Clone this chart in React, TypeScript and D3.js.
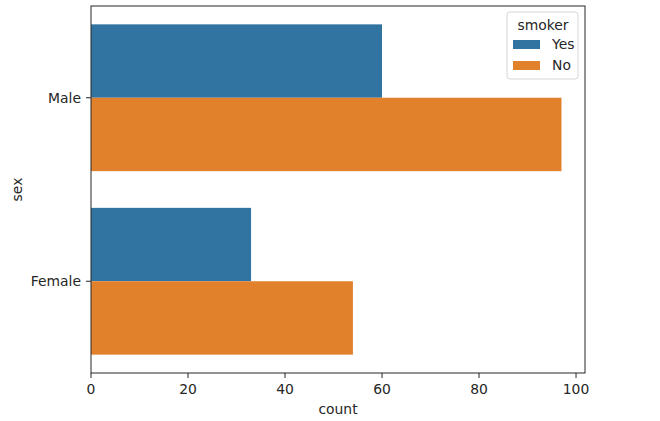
import React from "react";
import * as d3 from "d3";

const categories = ["Male", "Female"];
const hues = ["Yes", "No"];
const yesCounts = [60, 33];
const noCounts = [97, 54];
const xTicks = [0, 20, 40, 60, 80, 100];
const colors = ["#3274a1", "#e1812c"];

export default function App() {
  const W = 660, H = 421;
  const left = 91, right = 585, top = 6, bottom = 373;
  const maxV = d3.max([...yesCounts, ...noCounts]) as number;
  const x = d3.scaleLinear().domain([0, maxV * 1.05]).range([left, right]);
  const y = d3.scaleLinear().domain([-0.5, 1.5]).range([top, bottom]);
  const series = [yesCounts, noCounts];
  const font = "DejaVu Sans, sans-serif";
  const fs = 13.9;
  return (
    <svg width={W} height={H} style={{ position: "absolute", left: 0, top: 0, background: "#fff" }} fontFamily={font}>
      {categories.map((c, i) =>
        series.map((s, j) => {
          const y0 = y(i - 0.4 + j * 0.4);
          const y1 = y(i + j * 0.4);
          return (
            <rect key={c + j} x={x(0)} y={y0} width={x(s[i]) - x(0)} height={y1 - y0} fill={colors[j]} />
          );
        })
      )}
      <rect x={left} y={top} width={right - left} height={bottom - top} fill="none" stroke="#262626" strokeWidth={1} />
      {xTicks.map((t) => (
        <g key={t}>
          <line x1={x(t)} x2={x(t)} y1={bottom} y2={bottom + 5} stroke="#262626" />
          <text x={x(t)} y={bottom + 21} textAnchor="middle" fontSize={fs} fill="#262626">{t}</text>
        </g>
      ))}
      {categories.map((c, i) => (
        <g key={c}>
          <line x1={left - 5} x2={left} y1={y(i)} y2={y(i)} stroke="#262626" />
          <text x={left - 10} y={y(i) + 5} textAnchor="end" fontSize={fs} fill="#262626">{c}</text>
        </g>
      ))}
      <text x={(left + right) / 2} y={414} textAnchor="middle" fontSize={fs} fill="#262626">count</text>
      <text transform={`translate(22, ${(top + bottom) / 2}) rotate(-90)`} textAnchor="middle" fontSize={fs} fill="#262626">sex</text>
      <g>
        <rect x={507} y={12} width={71} height={67} rx={3} fill="#fff" fillOpacity={0.8} stroke="#d6d6d6" />
        <text x={543} y={30} textAnchor="middle" fontSize={fs} fill="#262626">smoker</text>
        {hues.map((h, j) => (
          <g key={h}>
            <rect x={513} y={40 + j * 21} width={27} height={9} fill={colors[j]} />
            <text x={552} y={49 + j * 21} fontSize={fs} fill="#262626">{h}</text>
          </g>
        ))}
      </g>
    </svg>
  );
}
